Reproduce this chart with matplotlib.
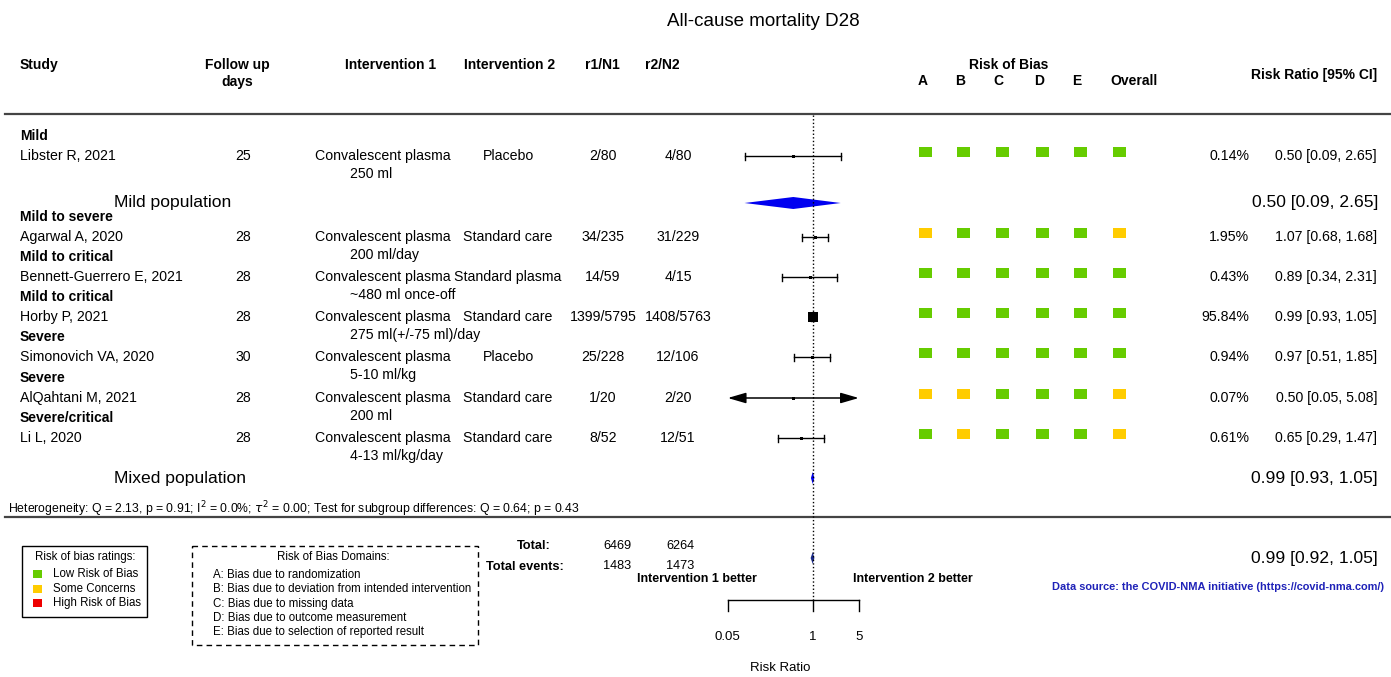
import matplotlib
matplotlib.use("Agg")
import matplotlib.pyplot as plt
from matplotlib.patches import Rectangle, Polygon, FancyArrowPatch
import numpy as np

plt.rcParams['font.family'] = ['Liberation Sans', 'DejaVu Sans']

# ---------------- data ----------------
title = "All-cause mortality D28"
studies = ["Libster R, 2021", "Agarwal A, 2020", "Bennett-Guerrero E, 2021", "Horby P, 2021",
           "Simonovich VA, 2020", "AlQahtani M, 2021", "Li L, 2020"]
severity = ["Mild", "Mild to severe", "Mild to critical", "Mild to critical",
            "Severe", "Severe", "Severe/critical"]
follow_up = [25, 28, 28, 28, 30, 28, 28]
intervention1 = ["Convalescent plasma"] * 7
dose = ["250 ml", "200 ml/day", "~480 ml once-off", "275 ml(+/-75 ml)/day",
        "5-10 ml/kg", "200 ml", "4-13 ml/kg/day"]
intervention2 = ["Placebo", "Standard care", "Standard plasma", "Standard care",
                 "Placebo", "Standard care", "Standard care"]
r1 = [2, 34, 14, 1399, 25, 1, 8]
n1 = [80, 235, 59, 5795, 228, 20, 52]
r2 = [4, 31, 4, 1408, 12, 2, 12]
n2 = [80, 229, 15, 5763, 106, 20, 51]
rr = [0.50, 1.07, 0.89, 0.99, 0.97, 0.50, 0.65]
ci_lo = [0.09, 0.68, 0.34, 0.93, 0.51, 0.05, 0.29]
ci_hi = [2.65, 1.68, 2.31, 1.05, 1.85, 5.08, 1.47]
weights = [0.14, 1.95, 0.43, 95.84, 0.94, 0.07, 0.61]
rob_domains = ["A", "B", "C", "D", "E", "Overall"]
rob = [["L", "L", "L", "L", "L", "L"],
       ["S", "L", "L", "L", "L", "S"],
       ["L", "L", "L", "L", "L", "L"],
       ["L", "L", "L", "L", "L", "L"],
       ["L", "L", "L", "L", "L", "L"],
       ["S", "S", "L", "L", "L", "S"],
       ["L", "S", "L", "L", "L", "S"]]
sub_names = ["Mild population", "Mixed population"]
sub_rr = [0.50, 0.99]
sub_lo = [0.09, 0.93]
sub_hi = [2.65, 1.05]
overall_rr, overall_lo, overall_hi = 0.99, 0.92, 1.05
total_n = [6469, 6264]
total_events = [1483, 1473]
axis_ticks = [0.05, 1, 5]
heterogeneity = ("Heterogeneity: Q = 2.13, p = 0.91; I$^2$ = 0.0%; $\\tau^2$ = 0.00; "
                 "Test for subgroup differences: Q = 0.64; p = 0.43")
rob_colors = {"L": "#66CC00", "S": "#FFCC00", "H": "#EE0000"}
rob_legend = [("Low Risk of Bias", "L"), ("Some Concerns", "S"), ("High Risk of Bias", "H")]
domain_text = ["A: Bias due to randomization",
               "B: Bias due to deviation from intended intervention",
               "C: Bias due to missing data",
               "D: Bias due to outcome measurement",
               "E: Bias due to selection of reported result"]

# ---------------- layout ----------------
W, H = 1391, 677
fig = plt.figure(figsize=(W / 100, H / 100), dpi=100)
ax = fig.add_axes([0, 0, 1, 1])
ax.set_xlim(0, W)
ax.set_ylim(H, 0)
ax.axis('off')

# forest axes: log scale, 1 at px 813, 65.5 px per decade
FX0, FX1, ONE, PPD = 700, 900, 813, 65.5
fx = fig.add_axes([FX0 / W, 0, (FX1 - FX0) / W, 1])
fx.set_xscale('log')
fx.set_xlim(10 ** ((FX0 - ONE) / PPD), 10 ** ((FX1 - ONE) / PPD))
fx.set_ylim(H, 0)
fx.axis('off')
fx.patch.set_alpha(0)

row_y = [156, 237, 277, 317, 357, 398, 438]
sub_y = [203, 478]
overall_y = 558
FS = 10.2
BIG = 12.6

# title
ax.text(763, 22, title, ha='center', va='center', fontsize=13.5)

# header
hy = 65
ax.text(20, hy, "Study", ha='left', va='center', fontsize=10, fontweight='bold')
ax.text(237, hy, "Follow up", ha='center', va='center', fontsize=10, fontweight='bold')
ax.text(237, 82, "days", ha='center', va='center', fontsize=10, fontweight='bold')
ax.text(391, hy, "Intervention 1", ha='center', va='center', fontsize=10, fontweight='bold')
ax.text(509, hy, "Intervention 2", ha='center', va='center', fontsize=10, fontweight='bold')
ax.text(602, hy, "r1/N1", ha='center', va='center', fontsize=10, fontweight='bold')
ax.text(662, hy, "r2/N2", ha='center', va='center', fontsize=10, fontweight='bold')
ax.text(1009, hy, "Risk of Bias", ha='center', va='center', fontsize=10, fontweight='bold')
rob_x = [925, 963, 1002, 1042, 1080, 1119]
rob_head_x = [923, 960, 998, 1039, 1077, 1134]
for d, x in zip(rob_domains, rob_head_x):
    ax.text(x, 81, d, ha='center', va='center', fontsize=10, fontweight='bold')
ax.text(1377, 75, "Risk Ratio [95% CI]", ha='right', va='center', fontsize=10, fontweight='bold')

ax.plot([5, W], [114, 114], color='#444444', lw=1.6)
ax.plot([5, W], [517, 517], color='#444444', lw=1.6)

# rows
for i, y in enumerate(row_y):
    ax.text(20, y - 20, severity[i], ha='left', va='center', fontsize=FS - 0.2, fontweight='bold')
    ax.text(20, y, studies[i], ha='left', va='center', fontsize=FS)
    ax.text(243, y, str(follow_up[i]), ha='center', va='center', fontsize=FS)
    ax.text(315, y, intervention1[i], ha='left', va='center', fontsize=FS)
    ax.text(350, y + 18, dose[i], ha='left', va='center', fontsize=FS)
    ax.text(508, y, intervention2[i], ha='center', va='center', fontsize=FS)
    ax.text(603, y, f"{r1[i]}/{n1[i]}", ha='center', va='center', fontsize=FS)
    ax.text(678, y, f"{r2[i]}/{n2[i]}", ha='center', va='center', fontsize=FS)
    ax.text(1249, y, f"{weights[i]:.2f}%", ha='right', va='center', fontsize=FS)
    ax.text(1377, y, f"{rr[i]:.2f} [{ci_lo[i]:.2f}, {ci_hi[i]:.2f}]", ha='right',
            va='center', fontsize=FS)
    for j, c in enumerate(rob[i]):
        ax.add_patch(Rectangle((rob_x[j] - 6.5, y - 9.5), 13, 10, color=rob_colors[c], lw=0))

# forest: study CIs
alim = (axis_ticks[0], axis_ticks[-1])
maxw = max(weights)
for i, y in enumerate(row_y):
    lo, hi = ci_lo[i], ci_hi[i]
    if lo <= alim[0] or hi >= alim[1]:
        a = FancyArrowPatch((max(lo, alim[0]), y), (min(hi, alim[1]), y),
                            arrowstyle='<|-|>,head_length=1.1,head_width=0.32',
                            mutation_scale=10, color='black', lw=1.1,
                            shrinkA=0, shrinkB=0, clip_on=False)
        fx.add_patch(a)
    else:
        fx.plot([lo, hi], [y, y], color='black', lw=1.0, clip_on=False)
        fx.plot([lo, lo], [y - 3.5, y + 3.5], color='black', lw=1.0, clip_on=False)
        fx.plot([hi, hi], [y - 3.5, y + 3.5], color='black', lw=1.0, clip_on=False)
    s_px = max(3.0, 10.0 * np.sqrt(weights[i] / maxw))
    fx.plot([rr[i]], [y], marker='s', color='black', ms=s_px * 0.72, mew=0,
            clip_on=False)

# subgroup summaries
for k, y in enumerate(sub_y):
    ax.text(114, y, sub_names[k], ha='left', va='center', fontsize=BIG)
    fx.add_patch(Polygon([(sub_lo[k], y), (sub_rr[k], y - 6), (sub_hi[k], y), (sub_rr[k], y + 6)],
                         closed=True, color='#0000F0', lw=0, clip_on=False))
    ax.text(1378, y, f"{sub_rr[k]:.2f} [{sub_lo[k]:.2f}, {sub_hi[k]:.2f}]", ha='right',
            va='center', fontsize=BIG)

# overall
fx.add_patch(Polygon([(overall_lo, overall_y), (overall_rr, overall_y - 6),
                      (overall_hi, overall_y), (overall_rr, overall_y + 6)],
                     closed=True, color='#1A2A8A', lw=0, clip_on=False))
ax.text(1378, overall_y, f"{overall_rr:.2f} [{overall_lo:.2f}, {overall_hi:.2f}]",
        ha='right', va='center', fontsize=BIG)

# reference line and axis
fx.plot([1, 1], [115, 600], color='black', lw=1.0, linestyle=(0, (1, 1.6)), clip_on=False)
fx.plot([axis_ticks[0], axis_ticks[-1]], [600, 600], color='black', lw=1.0, clip_on=False)
for t in axis_ticks:
    fx.plot([t, t], [600, 611], color='black', lw=1.0, clip_on=False)
    fx.text(t, 637, f"{t:g}", ha='center', va='center', fontsize=9.5, clip_on=False)
ax.text(780, 668, "Risk Ratio", ha='center', va='center', fontsize=9.5)
ax.text(697, 579, "Intervention 1 better", ha='center', va='center', fontsize=9, fontweight='bold')
ax.text(913, 579, "Intervention 2 better", ha='center', va='center', fontsize=9, fontweight='bold')

# heterogeneity
ax.text(8, 509, heterogeneity, ha='left', va='center', fontsize=8.8)

# totals
ax.text(534, 546, "Total:", ha='center', va='center', fontsize=9.2, fontweight='bold')
ax.text(525, 567, "Total events:", ha='center', va='center', fontsize=9.2, fontweight='bold')
ax.text(617, 546, str(total_n[0]), ha='center', va='center', fontsize=9.2)
ax.text(680, 546, str(total_n[1]), ha='center', va='center', fontsize=9.2)
ax.text(617, 566, str(total_events[0]), ha='center', va='center', fontsize=9.2)
ax.text(680, 566, str(total_events[1]), ha='center', va='center', fontsize=9.2)

# data source
ax.text(1384, 587, "Data source: the COVID-NMA initiative (https://covid-nma.com/)",
        ha='right', va='center', fontsize=7.9, fontweight='bold', color='#1F22B8')

# rob legend
ax.add_patch(Rectangle((22, 546), 125, 71, fill=False, ec='black', lw=1.0))
ax.text(85, 557, "Risk of bias ratings:", ha='center', va='center', fontsize=8.3)
for k, (lab, c) in enumerate(rob_legend):
    yy = 574 + 14.5 * k
    ax.add_patch(Rectangle((33, yy - 4), 9, 8, color=rob_colors[c], lw=0))
    ax.text(53, yy, lab, ha='left', va='center', fontsize=8.3)

# domain box
ax.add_patch(Rectangle((192, 546), 286, 99, fill=False, ec='black', lw=1.0,
                       linestyle=(0, (4, 3))))
ax.text(333, 557, "Risk of Bias Domains:", ha='center', va='center', fontsize=8.3)
for k, t in enumerate(domain_text):
    ax.text(213, 575 + 14.3 * k, t, ha='left', va='center', fontsize=8.3)

fig.savefig("out.png", dpi=100)
